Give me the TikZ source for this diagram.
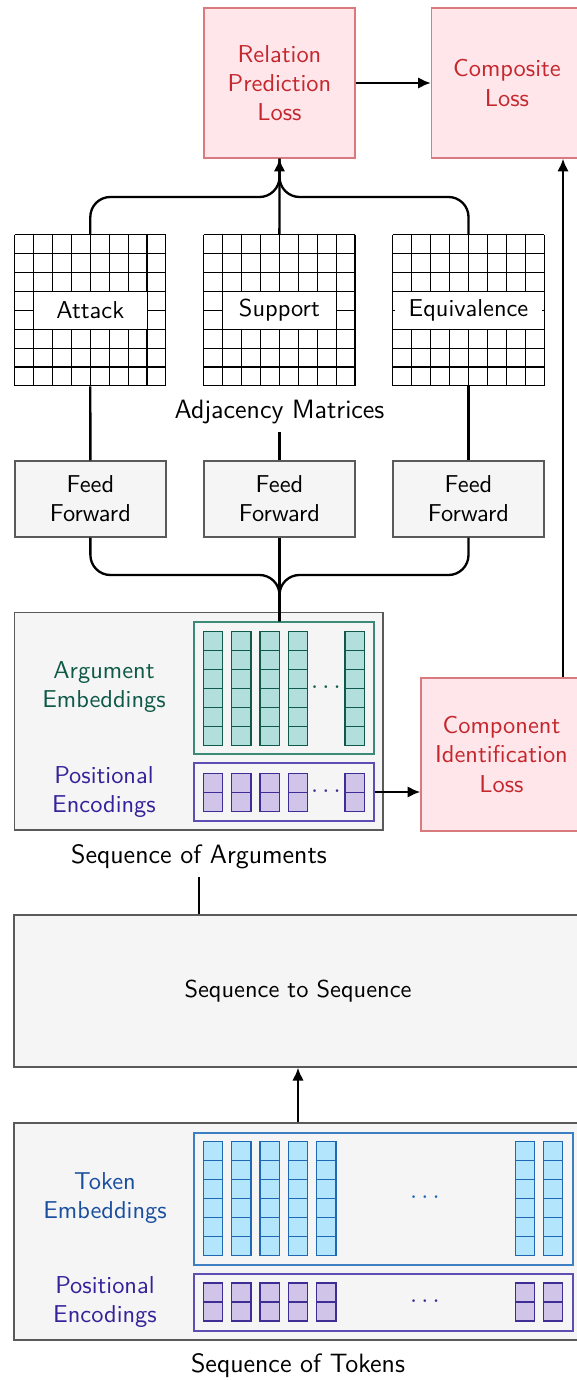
\documentclass[tikz,border=0pt]{standalone}
\usepackage{tikz}
\usetikzlibrary{arrows.meta}

\definecolor{boxFill}{HTML}{F5F5F5}
\definecolor{boxLine}{HTML}{5A5A5A}
\definecolor{lossFill}{HTML}{FFE6EA}
\definecolor{lossLine}{HTML}{D97A7F}
\definecolor{lossText}{HTML}{C4282E}
\definecolor{argFill}{HTML}{B2DFDB}
\definecolor{argLine}{HTML}{0F5A4B}
\definecolor{argFrame}{HTML}{3A8A77}
\definecolor{argText}{HTML}{0F5A47}
\definecolor{posFill}{HTML}{D1C4E9}
\definecolor{posLine}{HTML}{3F2D96}
\definecolor{posFrame}{HTML}{5E4DB3}
\definecolor{posText}{HTML}{34229A}
\definecolor{tokFill}{HTML}{B3E5FC}
\definecolor{tokLine}{HTML}{1F68B5}
\definecolor{tokFrame}{HTML}{3E7FC4}
\definecolor{tokText}{HTML}{1A4FA0}

\def\pxl{0.43pt}

\begin{document}
\begin{tikzpicture}[x=0.43pt, y=-0.43pt, >={Latex[length=5.5pt,width=5pt]},
    font=\sffamily\fontsize{10.5}{12.6}\selectfont,
    link/.style={line width=1pt},
    bigText/.style={font=\sffamily\fontsize{11.4}{13.7}\selectfont},
    grayBox/.style={draw=boxLine, fill=boxFill, line width=0.6pt, inner sep=0pt, align=center},
    lossBox/.style={draw=lossLine, fill=lossFill, text=lossText, line width=0.6pt, inner sep=0pt, align=center},
    frameBox/.style={line width=0.6pt, inner sep=0pt},
    gridLine/.style={line width=0.5pt},
    adjLabel/.style={fill=white, inner xsep=6pt, inner ysep=0pt, minimum width=113.4*\pxl, minimum height=37*\pxl},
    argCell/.style={draw=argLine, fill=argFill, line width=0.5pt},
    posCell/.style={draw=posLine, fill=posFill, line width=0.5pt},
    tokCell/.style={draw=tokLine, fill=tokFill, line width=0.5pt}]

    % Define parameters
    \def\cell{18.9}      % cell of the adjacency matrices
    \def\vecCell{19}     % cell of the embedding vectors
    \def\colStep{28.35}  % distance between two vectors
    \def\colLeft{203.3}  % left edge of the first vector

    \useasboundingbox (0,0) rectangle (576,1380);

    % Losses
    \node[lossBox, minimum width=151*\pxl, minimum height=150*\pxl] (rpl) at (279.5,83) {Relation\\Prediction\\Loss};
    \node[lossBox, minimum width=151*\pxl, minimum height=150*\pxl] (closs) at (507,83) {Composite\\Loss};
    \draw[link, ->] (rpl) -- (closs);

    % Adjacency matrices
    \foreach \gx/\name/\lbl in {14.7/adjA/Attack, 203.8/adjS/Support, 392.9/adjE/Equivalence} {
        \node[minimum width=151.2*\pxl, minimum height=151.2*\pxl, inner sep=0pt] (\name) at (\gx+75.6, 310.3) {};
        \foreach \i in {0,...,8} {
            \draw[gridLine] (\gx+\i*\cell, 234.7) -- ++(0, 8*\cell);
            \draw[gridLine] (\gx, 234.7+\i*\cell) -- ++(8*\cell, 0);
        }
        \node[adjLabel] (\name-lbl) at (\name) {\lbl};
    }
    \node[bigText] (adjLbl) at (279.5,412) {Adjacency Matrices};

    \coordinate (topJoin) at (279.5,197);
    \draw[link, ->] (adjS.north) -- (rpl.south);
    \draw[link, rounded corners=8.6pt] (adjA.north) |- (topJoin) -- (rpl.south);
    \draw[link, rounded corners=8.6pt] (adjE.north) |- (topJoin) -- (rpl.south);

    % Feed forward layers
    \foreach \fx/\name in {90.4/ffA, 279.5/ffS, 468.5/ffE} {
        \node[grayBox, minimum width=151*\pxl, minimum height=76*\pxl] (\name) at (\fx,499) {Feed\\Forward};
    }
    \draw[link] (adjA.south) -- (ffA.north);
    \draw[link] (adjLbl.south) -- (ffS.north);
    \draw[link] (adjE.south) -- (ffE.north);

    % Sequence of arguments
    \node[grayBox, minimum width=368.7*\pxl, minimum height=217.3*\pxl] (seqArg) at (198.7,721.4) {};
    \node[text=argText, align=center] (argTxt) at (104,687) {Argument\\Embeddings};
    \node[frameBox, draw=argFrame, minimum width=180*\pxl, minimum height=132*\pxl] (argEmb) at (284,688) {};
    \foreach \k in {0,1,2,3,5} {
        \foreach \j in {0,...,5} {
            \draw[argCell] (\colLeft+\k*\colStep, 631.7+\j*\vecCell) rectangle ++(19.3,19);
        }
    }
    \node[text=argLine] (argDots) at (326,688) {$\cdots$};

    \node[text=posText, align=center] (posArgTxt) at (104,792) {Positional\\Encodings};
    \node[frameBox, draw=posFrame, minimum width=180*\pxl, minimum height=58*\pxl] (posArg) at (284,792) {};
    \foreach \k in {0,1,2,3,5} {
        \foreach \j in {0,1} {
            \draw[posCell] (\colLeft+\k*\colStep, 773.3+\j*\vecCell) rectangle ++(19.3,19);
        }
    }
    \node[text=posLine] (posArgDots) at (326,792) {$\cdots$};

    \coordinate (botJoin) at (279.5,575);
    \draw[link] (ffS.south) -- (botJoin |- argEmb.north);
    \draw[link, rounded corners=8.6pt] (ffA.south) |- (botJoin) -- (botJoin |- argEmb.north);
    \draw[link, rounded corners=8.6pt] (ffE.south) |- (botJoin) -- (botJoin |- argEmb.north);

    % Component identification loss
    \node[lossBox, minimum width=161*\pxl, minimum height=153*\pxl] (cil) at (501.5,754.5) {Component\\Identification\\Loss};
    \draw[link, ->] (posArg.east) -- (cil.west |- posArg.east);
    \coordinate (rail) at (563,0);
    \draw[link, ->] (cil.north -| rail) -- (closs.south -| rail);

    \node[bigText] (seqArgLbl) at (199,857) {Sequence of Arguments};

    % Sequence to sequence
    \node[grayBox, minimum width=568*\pxl, minimum height=152*\pxl] (s2s) at (298,991) {Sequence to Sequence};
    \draw[link] (seqArgLbl.south) -- (seqArgLbl.south |- s2s.north);

    % Sequence of tokens
    \node[grayBox, minimum width=568*\pxl, minimum height=217*\pxl] (seqTok) at (298,1231.5) {};
    \node[text=tokText, align=center] (tokTxt) at (105,1198) {Token\\Embeddings};
    \node[frameBox, draw=tokFrame, minimum width=379*\pxl, minimum height=132.3*\pxl] (tokEmb) at (383.5,1199) {};
    \foreach \k in {0,1,2,3,4,11,12} {
        \foreach \j in {0,...,5} {
            \draw[tokCell] (\colLeft+\k*\colStep, 1141.7+\j*\vecCell) rectangle ++(19.3,19);
        }
    }
    \node[text=tokLine] (tokDots) at (425,1198) {$\cdots$};

    \node[text=posText, align=center] (posTokTxt) at (105,1302) {Positional\\Encodings};
    \node[frameBox, draw=posFrame, minimum width=379*\pxl, minimum height=57*\pxl] (posTok) at (383.5,1302.5) {};
    \foreach \k in {0,1,2,3,4,11,12} {
        \foreach \j in {0,1} {
            \draw[posCell] (\colLeft+\k*\colStep, 1283+\j*\vecCell) rectangle ++(19.3,19);
        }
    }
    \node[text=posLine] (posTokDots) at (425,1302) {$\cdots$};

    \node[bigText] (seqTokLbl) at (298,1366) {Sequence of Tokens};
    \draw[link, ->] (seqTok.north) -- (s2s.south);
\end{tikzpicture}
\end{document}
